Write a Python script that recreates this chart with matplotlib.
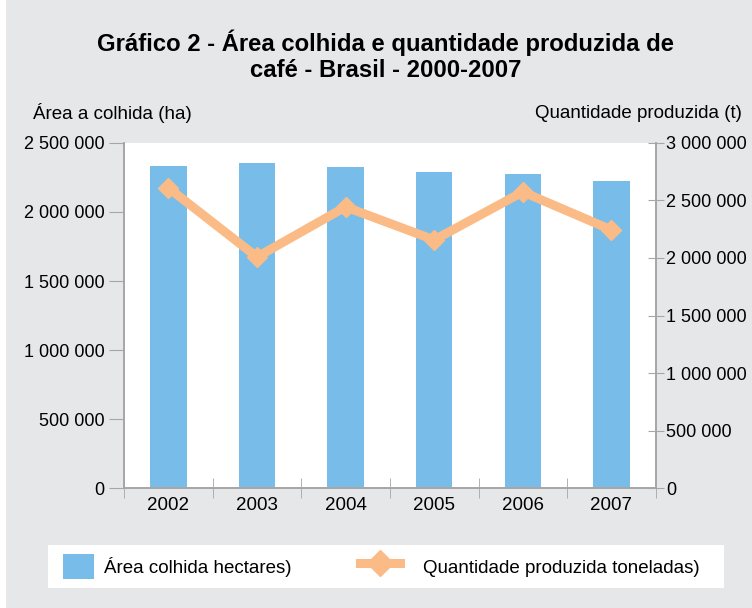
import numpy as np
import matplotlib
matplotlib.use("Agg")
import matplotlib.pyplot as plt
from matplotlib.ticker import FuncFormatter, FixedLocator
from matplotlib.patches import Rectangle, Patch
from matplotlib.lines import Line2D

plt.rcParams['font.family'] = ['Liberation Sans', 'DejaVu Sans']

years = ['2002', '2003', '2004', '2005', '2006', '2007']
area_ha = [2333000, 2355000, 2326000, 2290000, 2275000, 2225000]
producao_t = [2609000, 2009000, 2444000, 2157000, 2574000, 2244000]

bg = '#e6e7e9'
bar_color = '#78bde9'
line_color = '#fbbb86'
spine_color = '#a6a6a6'
fs = 13.5
tick_fs = 13


def fmt(v, pos=None):
    return '{:,.0f}'.format(v).replace(',', ' ')


fig = plt.figure(figsize=(7.52, 6.08), dpi=100, facecolor=bg)
# thin white strip on the left edge, as in the scanned page
fig.patches.append(Rectangle((0, 0), 0.008, 1, transform=fig.transFigure,
                             facecolor='white', edgecolor='none', zorder=0))

ax = fig.add_axes([0.165, 0.197, 0.707, 0.568])
ax.set_facecolor('white')

x = np.arange(len(years))
ax.bar(x, area_ha, width=0.41, color=bar_color, zorder=2)
ax.set_xlim(-0.5, len(years) - 0.5)
ax.set_ylim(0, 2500000)
ax.set_yticks(np.arange(0, 2500001, 500000))
ax.yaxis.set_major_formatter(FuncFormatter(fmt))
ax.set_xticks(x)
ax.set_xticklabels(years)
ax.tick_params(axis='x', length=0, labelsize=fs, pad=6)
ax.xaxis.set_minor_locator(FixedLocator(np.arange(-0.5, len(years), 1.0)))
ax.tick_params(axis='x', which='minor', length=14, direction='inout', color=spine_color)
ax.tick_params(axis='y', length=11, direction='out', color=spine_color, labelsize=tick_fs, pad=3)

ax2 = ax.twinx()
ax2.plot(x, producao_t, color=line_color, lw=6.5, marker='D', markersize=10,
         solid_joinstyle='miter', zorder=3)
ax2.set_ylim(0, 3000000)
ax2.set_yticks(np.arange(0, 3000001, 500000))
ax2.yaxis.set_major_formatter(FuncFormatter(fmt))
ax2.tick_params(axis='y', length=11, direction='inout', color=spine_color, labelsize=tick_fs, pad=2)

for a in (ax, ax2):
    a.spines['top'].set_visible(False)
    for s in ('left', 'right', 'bottom'):
        a.spines[s].set_color(spine_color)
        a.spines[s].set_linewidth(1.2)

fig.text(0.513, 0.908, 'Gráfico 2 - Área colhida e quantidade produzida de\ncafé - Brasil - 2000-2007',
         ha='center', va='center', fontsize=17.2, fontweight='bold', linespacing=1.2)
fig.text(0.044, 0.814, 'Área a colhida (ha)', ha='left', va='center', fontsize=fs)
fig.text(0.711, 0.814, 'Quantidade produzida (t)', ha='left', va='center', fontsize=fs)

# legend box
fig.patches.append(Rectangle((0.064, 0.033), 0.899, 0.071, transform=fig.transFigure,
                             facecolor='white', edgecolor='none', zorder=0))
leg1 = fig.legend([Patch(facecolor=bar_color, edgecolor='none')], ['Área colhida hectares)'],
                  loc='center left', bbox_to_anchor=(0.084, 0.068), frameon=False,
                  fontsize=fs, handlelength=1.65, handleheight=1.7, handletextpad=0.55,
                  borderpad=0, borderaxespad=0)
fig.legend([Line2D([], [], color=line_color, lw=6.5, marker='D', markersize=13)],
           ['Quantidade produzida toneladas)'],
           loc='center left', bbox_to_anchor=(0.479, 0.068), frameon=False,
           fontsize=fs, handlelength=2.13, handleheight=1.7, handletextpad=1.2,
           borderpad=0, borderaxespad=0)

fig.savefig('out.png', dpi=100, facecolor=bg)
